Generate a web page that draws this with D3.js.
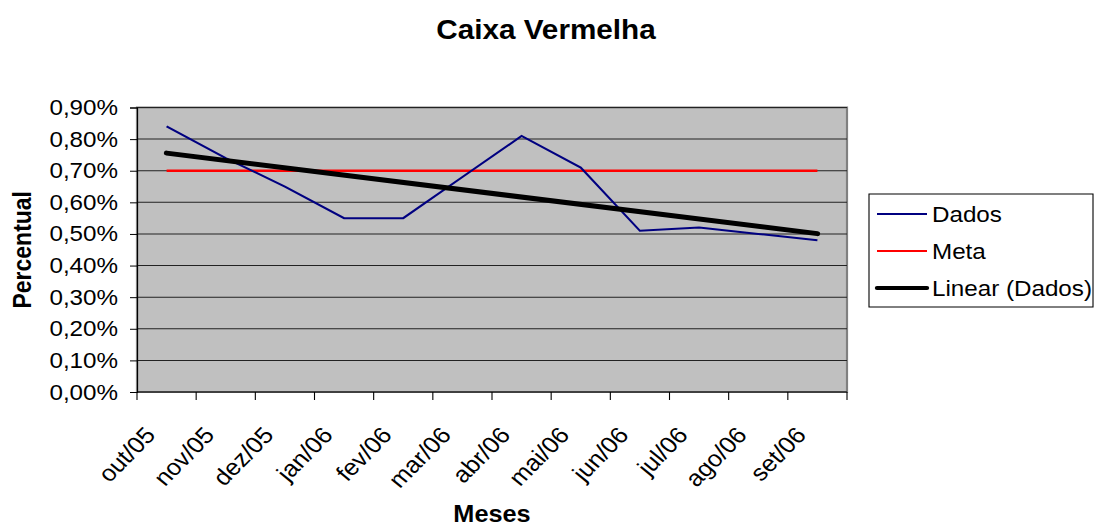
<!DOCTYPE html>
<html lang="pt">
<head>
  <meta charset="UTF-8">
  <title>Caixa Vermelha</title>
  <script src="https://d3js.org/d3.v7.min.js"></script>
  <style>
    body { margin: 0; background: #fff; }
    svg { display: block; font-family: "Liberation Sans", Arial, sans-serif; }
  </style>
</head>
<body>
  <svg id="chart"></svg>
  <script>
    // Data
    const months = ["out/05", "nov/05", "dez/05", "jan/06", "fev/06", "mar/06",
                    "abr/06", "mai/06", "jun/06", "jul/06", "ago/06", "set/06"];
    const dados = [0.0084, 0.0074, 0.0065, 0.0055, 0.0055, 0.0068,
                   0.0081, 0.0071, 0.0051, 0.0052, 0.0050, 0.0048];
    const meta = [0.007, 0.007, 0.007, 0.007, 0.007, 0.007,
                  0.007, 0.007, 0.007, 0.007, 0.007, 0.007];
    const yTicks = [0, 0.001, 0.002, 0.003, 0.004, 0.005, 0.006, 0.007, 0.008, 0.009];

    // The reference is stretched horizontally (~1.1x), so draw in a narrower viewBox
    const S = 1.1;
    const W = 1094, H = 526;
    const vx = px => px / S;

    const svg = d3.select("#chart")
      .attr("width", W).attr("height", H)
      .attr("viewBox", `0 0 ${W / S} ${H}`)
      .attr("preserveAspectRatio", "none");

    const plot = { left: vx(137), right: vx(847), top: 107.5, bottom: 392 };

    const x = d3.scaleBand().domain(months).range([plot.left, plot.right]);
    const y = d3.scaleLinear().domain([0, 0.009]).range([plot.bottom, plot.top]);
    const cx = d => x(d) + x.bandwidth() / 2;

    const pt = d3.formatLocale({ decimal: ",", thousands: ".", grouping: [3], currency: ["R$", ""] });
    const fmt = pt.format(".2%");

    // plot area
    svg.append("rect")
      .attr("x", plot.left).attr("y", plot.top)
      .attr("width", plot.right - plot.left).attr("height", plot.bottom - plot.top)
      .attr("fill", "#c0c0c0").attr("stroke", "#808080").attr("stroke-width", 2);

    // gridlines
    svg.append("g").selectAll("line")
      .data(yTicks.slice(1))
      .join("line")
      .attr("x1", plot.left).attr("x2", plot.right)
      .attr("y1", d => y(d)).attr("y2", d => y(d))
      .attr("stroke", "#222").attr("stroke-width", 1);

    // y axis
    const yAxis = svg.append("g")
      .attr("transform", `translate(${plot.left},0)`)
      .call(d3.axisLeft(y).tickValues(yTicks).tickFormat(fmt).tickSize(vx(7)).tickPadding(vx(12)));
    yAxis.select(".domain").attr("stroke", "#000");
    yAxis.selectAll("text").attr("font-size", 22).attr("fill", "#000").attr("font-family", null);

    // x axis: ticks at category boundaries
    const xAxisG = svg.append("g").attr("transform", `translate(0,${plot.bottom})`);
    xAxisG.append("line")
      .attr("x1", plot.left).attr("x2", plot.right)
      .attr("stroke", "#000");
    const bounds = months.map(m => x(m)).concat([plot.right]);
    xAxisG.selectAll("line.tick").data(bounds).join("line")
      .attr("class", "tick")
      .attr("x1", d => d).attr("x2", d => d)
      .attr("y1", 0).attr("y2", 8)
      .attr("stroke", "#000");
    xAxisG.selectAll("text").data(months).join("text")
      .attr("transform", d => `translate(${cx(d) - vx(10)},${44}) rotate(-48)`)
      .attr("text-anchor", "end")
      .attr("font-size", 23)
      .text(d => d);

    // linear trend of Dados
    const n = dados.length;
    const xm = (n - 1) / 2, ym = d3.mean(dados);
    let sxy = 0, sxx = 0;
    dados.forEach((v, i) => { sxy += (i - xm) * (v - ym); sxx += (i - xm) * (i - xm); });
    const slope = sxy / sxx, icpt = ym - slope * xm;
    const trend = [0, n - 1].map(i => ({ m: months[i], v: icpt + slope * i }));

    const line = d3.line().x(d => cx(d.m)).y(d => y(d.v));

    svg.append("path")
      .datum(meta.map((v, i) => ({ m: months[i], v })))
      .attr("d", line).attr("fill", "none")
      .attr("stroke", "#ff0000").attr("stroke-width", 2.5);

    svg.append("path")
      .datum(dados.map((v, i) => ({ m: months[i], v })))
      .attr("d", line).attr("fill", "none")
      .attr("stroke", "#000080").attr("stroke-width", 2);

    svg.append("path")
      .datum(trend)
      .attr("d", line).attr("fill", "none")
      .attr("stroke", "#000").attr("stroke-width", 5)
      .attr("stroke-linecap", "round");

    // titles
    svg.append("text")
      .attr("x", vx(546)).attr("y", 39)
      .attr("text-anchor", "middle")
      .attr("font-size", 27).attr("font-weight", "bold")
      .text("Caixa Vermelha");

    svg.append("text")
      .attr("x", (plot.left + plot.right) / 2).attr("y", 522)
      .attr("text-anchor", "middle")
      .attr("font-size", 23).attr("font-weight", "bold")
      .text("Meses");

    svg.append("text")
      .attr("transform", `translate(${vx(31)},${(plot.top + plot.bottom) / 2}) rotate(-90)`)
      .attr("text-anchor", "middle")
      .attr("font-size", 23).attr("font-weight", "bold")
      .text("Percentual");

    // legend
    const legendItems = [
      { name: "Dados", color: "#000080", w: 2 },
      { name: "Meta", color: "#ff0000", w: 2 },
      { name: "Linear (Dados)", color: "#000", w: 4 }
    ];
    const leg = svg.append("g");
    leg.append("rect")
      .attr("x", vx(869)).attr("y", 194)
      .attr("width", vx(1093) - vx(869)).attr("height", 113)
      .attr("fill", "#fff").attr("stroke", "#000").attr("stroke-width", 1);
    const li = leg.selectAll("g.item").data(legendItems).join("g")
      .attr("class", "item")
      .attr("transform", (d, i) => `translate(0,${214 + i * 37})`);
    li.append("line")
      .attr("x1", vx(877)).attr("x2", vx(927))
      .attr("stroke", d => d.color).attr("stroke-width", d => d.w)
      .attr("stroke-linecap", d => d.w > 2 ? "round" : "butt");
    li.append("text")
      .attr("x", vx(932)).attr("y", 8)
      .attr("font-size", 22)
      .text(d => d.name);
  </script>
</body>
</html>
